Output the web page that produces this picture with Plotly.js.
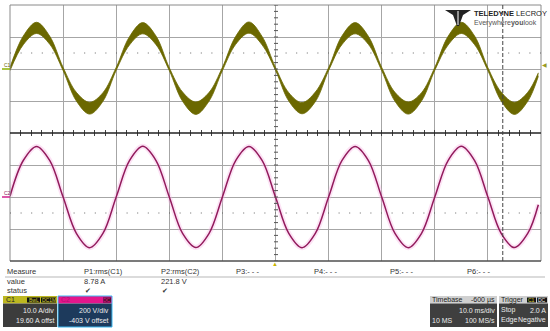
<!DOCTYPE html>
<html>
<head>
<meta charset="utf-8">
<script src="https://cdn.plot.ly/plotly-3.0.1.min.js"></script>
<style>
  html, body { margin: 0; padding: 0; background: #fff; }
  #scope { width: 550px; height: 331px; }
</style>
</head>
<body>
<div id="scope"></div>
<script>
const W = 550, H = 331;

// time axis, ms (10 ms/div, 10 div)
const timeMs = [0, 2.5, 5, 7.5, 10, 12.5, 15, 17.5,
  20, 22.5, 25, 27.5, 30, 32.5, 35, 37.5,
  40, 42.5, 45, 47.5, 50, 52.5, 55, 57.5,
  60, 62.5, 65, 67.5, 70, 72.5, 75, 77.5,
  80, 82.5, 85, 87.5, 90, 92.5, 95, 97.5, 99.5];

// C1 current, A: the noisy band, upper and lower edge
const currentTop = [0.5, 10.3, 14.6, 10.2, 0.5, -7.3, -10.4, -7.4,
  0.5, 10.1, 14.5, 10.3, 0.4, -7.2, -10.3, -7.3,
  0.5, 10.2, 14.7, 10.1, 0.5, -7.4, -10.5, -7.2,
  0.4, 10.3, 14.5, 10.2, 0.5, -7.3, -10.3, -7.4,
  0.5, 10.2, 14.6, 10.3, 0.4, -7.2, -10.4, -7.3, -1.2];
const currentBottom = [-0.5, 7.6, 11.1, 7.7, -0.5, -10.0, -14.1, -10.1,
  -0.4, 7.5, 11.0, 7.6, -0.5, -10.1, -14.2, -10.0,
  -0.5, 7.7, 11.2, 7.5, -0.4, -10.0, -14.0, -10.2,
  -0.5, 7.6, 11.0, 7.7, -0.5, -10.1, -14.1, -10.0,
  -0.4, 7.5, 11.1, 7.6, -0.5, -10.0, -14.2, -10.1, -2.3];

// C2 voltage, V
const voltage = [5, 228, 316, 227, 0, -227, -317, -228,
  0, 227, 317, 228, 0, -228, -316, -227,
  0, 228, 316, 227, 0, -227, -317, -228,
  0, 227, 316, 228, 0, -228, -317, -227,
  0, 228, 317, 227, 0, -227, -316, -228, -48];

const measureRows = ["Measure", "value", "status"];
const paramNames = ["P1:rms(C1)", "P2:rms(C2)", "P3:- - -", "P4:- - -", "P5:- - -", "P6:- - -"];
const paramValues = ["8.78 A", "221.8 V", "", "", "", ""];
const paramStatus = ["\u2714", "\u2714", "", "", "", ""];
const paramX = [83, 160, 235, 313, 389, 466];

const olive = "#6b6800";
const magenta = "#921a5c";
const FONT = "Liberation Sans, Arial, sans-serif";

const px = x => x / W;
const py = y => 1 - y / H;

function txt(x, y, text, o = {}) {
  return {
    xref: "paper", yref: "paper", x: px(x), y: py(y), text: text,
    showarrow: false, xanchor: o.anchor || "left", yanchor: "middle", borderpad: 0,
    font: { family: o.family || FONT, size: o.size || 7.5, color: o.color || "#333" }
  };
}
function rect(x0, y0, x1, y1, fill, line) {
  return {
    type: "rect", xref: "paper", yref: "paper",
    x0: px(x0), x1: px(x1), y0: py(y0), y1: py(y1),
    fillcolor: fill, line: { width: line ? 1 : 0, color: line || fill }, layer: "above"
  };
}

let data = [
  { x: timeMs, y: currentBottom, type: "scatter", mode: "lines",
    line: { color: olive, width: 0.8, shape: "spline" }, xaxis: "x", yaxis: "y" },
  { x: timeMs, y: currentTop, type: "scatter", mode: "lines", fill: "tonexty",
    fillcolor: olive, line: { color: olive, width: 0.8, shape: "spline" }, xaxis: "x", yaxis: "y" },
  { x: timeMs, y: voltage, type: "scatter", mode: "lines",
    line: { color: "rgba(246,175,226,0.35)", width: 5, shape: "spline" }, xaxis: "x2", yaxis: "y2" },
  { x: timeMs, y: voltage, type: "scatter", mode: "lines",
    line: { color: magenta, width: 1.5, shape: "spline" }, xaxis: "x2", yaxis: "y2" }
];

const xCommon = {
  domain: [px(10), px(541)], range: [0, 100], dtick: 10,
  showgrid: true, gridcolor: "#a6a6a6", gridwidth: 1, zeroline: false,
  showticklabels: false, showline: false,
  ticks: "inside", ticklen: 3, tickcolor: "#444",
  minor: { ticks: "inside", ticklen: 3, dtick: 2, tickcolor: "#444", showgrid: false }
};

let shapes = [
  // screen borders and panel divider
  { type: "rect", xref: "paper", yref: "paper", x0: px(10), x1: px(541), y0: py(261), y1: py(5),
    line: { color: "#8a8a8a", width: 1 } },
  { type: "line", xref: "paper", yref: "paper", x0: px(10), x1: px(541), y0: py(133), y1: py(133),
    line: { color: "#222", width: 1.5 } },
  { type: "line", xref: "paper", yref: "paper", x0: px(10), x1: px(541), y0: py(261), y1: py(261),
    line: { color: "#333", width: 1.2 } },
  // dotted reference lines
  { type: "line", xref: "paper", yref: "y", x0: px(10), x1: px(541), y0: 5, y1: 5,
    line: { color: "#666", width: 1, dash: "1px,9.6px" } },
  { type: "line", xref: "paper", yref: "y2", x0: px(10), x1: px(541), y0: -100, y1: -100,
    line: { color: "#666", width: 1, dash: "1px,9.6px" } },
  // cursor
  { type: "line", xref: "x", yref: "paper", x0: 92.8, x1: 92.8, y0: py(261), y1: py(5),
    line: { color: "#444", width: 1, dash: "4px,2px" } },
  // separator under measure header
  { type: "line", xref: "paper", yref: "paper", x0: px(5), x1: px(545), y0: py(277), y1: py(277),
    line: { color: "#cfcfcf", width: 1.5 } },
  // channel markers
  { type: "line", xref: "paper", yref: "paper", x0: px(2), x1: px(10), y0: py(69), y1: py(69),
    line: { color: "#8cb000", width: 1.5 } },
  { type: "line", xref: "paper", yref: "paper", x0: px(2), x1: px(10), y0: py(197), y1: py(197),
    line: { color: "#d0208c", width: 1.5 } }
];

// cross ticks along the centre vertical line
for (let v = -20; v <= 20; v += 2) {
  shapes.push({ type: "line", xref: "paper", yref: "y", x0: px(274), x1: px(278), y0: v, y1: v,
    line: { color: "#555", width: 1 } });
}
for (let v = -400; v <= 400; v += 40) {
  shapes.push({ type: "line", xref: "paper", yref: "y2", x0: px(274), x1: px(278), y0: v, y1: v,
    line: { color: "#555", width: 1 } });
}

// logo mark
const logoPts = [[445, 10], [471, 10], [463, 15], [459, 26], [457, 26], [453, 15]];
shapes.push({ type: "path", xref: "paper", yref: "paper", layer: "above",
  path: "M" + logoPts.map(p => px(p[0]) + "," + py(p[1])).join(" L") + " Z",
  fillcolor: "#222", line: { width: 0 } });
shapes.push({ type: "line", xref: "paper", yref: "paper", layer: "above",
  x0: px(458), x1: px(458), y0: py(11), y1: py(25), line: { color: "#fff", width: 1 } });

// channel / timebase boxes
shapes.push(rect(3, 296, 57, 303.5, "#bdb820"));
shapes.push(rect(3, 303.5, 57, 327, "#3c3c3c"));
shapes.push(rect(27, 297.5, 40, 302.5, "#111"));
shapes.push(rect(41, 297.5, 56, 302.5, "#111"));
shapes.push(rect(58, 296, 112, 303.5, "#e3168c"));
shapes.push(rect(58, 303.5, 112, 327, "#1d3a5c"));
shapes.push({ type: "rect", xref: "paper", yref: "paper", x0: px(58), x1: px(112), y0: py(327), y1: py(296),
  line: { color: "#3cb8f0", width: 1 }, layer: "above" });
shapes.push(rect(103, 297.5, 111, 302.5, "#4a1032"));
shapes.push(rect(430, 296, 497, 303.5, "#d0d0d0"));
shapes.push(rect(430, 303.5, 497, 327, "#3f3f3f"));
shapes.push(rect(499, 296, 548, 303.5, "#d0d0d0"));
shapes.push(rect(499, 303.5, 548, 327, "#3f3f3f"));
shapes.push(rect(527, 297.5, 536, 302.5, "#111"));
shapes.push(rect(537, 297.5, 547, 302.5, "#111"));

const boxText = "#ececec";
let annotations = [
  txt(473, 14, "<b>TELEDYNE</b> LECROY", { size: 7.5, color: "#222" }),
  txt(473, 23, "Everywhere<b>you</b>look", { size: 7, color: "#555" }),
  txt(3, 65, "C1", { size: 5, color: olive }),
  txt(3, 193, "C2", { size: 5, color: magenta }),
  txt(541, 65, "\u25C0", { size: 6, color: "#9a9a20" }),
  txt(275, 264, "\u25B2", { size: 6, color: "#c8b400", anchor: "center" }),
  // channel boxes
  txt(5, 299.7, "C1", { size: 7, color: "#222" }),
  txt(33.5, 300, "BwL", { size: 5, color: "#d8d030", anchor: "center" }),
  txt(48.5, 300, "DC1M", { size: 5, color: "#d8d030", anchor: "center" }),
  txt(55, 310, "10.0 A/div", { size: 7, color: boxText, anchor: "right" }),
  txt(55, 320, "19.60 A offst", { size: 7, color: boxText, anchor: "right" }),
  txt(60, 299.7, "C2", { size: 7, color: "#b01070" }),
  txt(107, 300, "DC", { size: 5, color: "#e3168c", anchor: "center" }),
  txt(110, 310, "200 V/div", { size: 7, color: boxText, anchor: "right" }),
  txt(110, 320, "-403 V offset", { size: 7, color: boxText, anchor: "right" }),
  txt(431, 299.7, "Timebase", { size: 7, color: "#222" }),
  txt(496, 299.7, "-600 \u00b5s", { size: 7, color: "#222", anchor: "right" }),
  txt(496, 310, "10.0 ms/div", { size: 7, color: boxText, anchor: "right" }),
  txt(431, 320, "10 MS", { size: 7, color: boxText }),
  txt(496, 320, "100 MS/s", { size: 7, color: boxText, anchor: "right" }),
  txt(500, 299.7, "Trigger", { size: 7, color: "#222" }),
  txt(531.5, 300, "C1", { size: 5, color: "#d8d030", anchor: "center" }),
  txt(542, 300, "DC", { size: 5, color: "#eee", anchor: "center" }),
  txt(500, 310, "Stop", { size: 7, color: boxText }),
  txt(547, 310, "2.0 A", { size: 7, color: boxText, anchor: "right" }),
  txt(500, 320, "Edge", { size: 7, color: boxText }),
  txt(547, 320, "Negative", { size: 7, color: boxText, anchor: "right" })
];

const rowY = [271, 281, 290];
measureRows.forEach((r, i) => annotations.push(txt(6, rowY[i], r)));
paramNames.forEach((p, i) => {
  annotations.push(txt(paramX[i], rowY[0], p));
  if (paramValues[i]) annotations.push(txt(paramX[i], rowY[1], paramValues[i]));
  if (paramStatus[i]) annotations.push(txt(paramX[i] + 1, rowY[2], paramStatus[i], { size: 7 }));
});

const layout = {
  width: W, height: H,
  margin: { l: 0, r: 0, t: 0, b: 0 },
  paper_bgcolor: "#fff", plot_bgcolor: "#fff",
  showlegend: false,
  xaxis: Object.assign({}, xCommon, { anchor: "y", side: "bottom" }),
  xaxis2: Object.assign({}, xCommon, { anchor: "y2", side: "top", matches: "x" }),
  yaxis: { domain: [py(133), py(5)], range: [-20, 20], dtick: 10, showgrid: true,
    gridcolor: "#a6a6a6", zeroline: false, showticklabels: false, ticks: "" },
  yaxis2: { domain: [py(261), py(133)], range: [-400, 400], dtick: 200, showgrid: true,
    gridcolor: "#a6a6a6", zeroline: false, showticklabels: false, ticks: "" },
  shapes: shapes,
  annotations: annotations
};

Plotly.newPlot("scope", data, layout, { staticPlot: true, displayModeBar: false });
</script>
</body>
</html>
